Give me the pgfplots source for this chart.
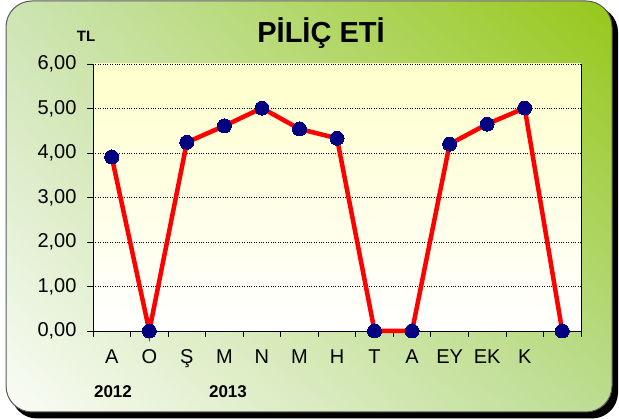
\documentclass[border=0pt]{standalone}
\usepackage{fontspec}
\setmainfont{Liberation Sans}
\usepackage{pgfplots}
\pgfplotsset{compat=1.18}
\usetikzlibrary{shadings}
\definecolor{cardTR}{RGB}{150,200,25}
\definecolor{cardTL}{RGB}{205,228,180}
\definecolor{cardBL}{RGB}{250,252,246}
\definecolor{cardBR}{RGB}{188,220,145}
\definecolor{paleyellow}{RGB}{255,255,204}
\definecolor{navyblue}{RGB}{0,0,128}
\begin{document}
\begin{tikzpicture}[x=1pt,y=1pt]
\useasboundingbox (0,0) rectangle (619,419);
\fill[black, rounded corners=26pt] (11,0.5) rectangle (618,413);
\shade[rounded corners=26pt, lower left=cardBL, upper right=cardTR, upper left=cardTL, lower right=cardBR] (6,7) rectangle (612,418);
\draw[black!65, line width=1pt, rounded corners=26pt] (6,7) rectangle (612,418);
\node at (321,386) {\fontsize{29}{34}\selectfont\bfseries PİLİÇ ETİ};
\node at (86,383) {\fontsize{15}{18}\selectfont\bfseries TL};
\node at (113,27) {\fontsize{17}{20}\selectfont\bfseries 2012};
\node at (228,27) {\fontsize{17}{20}\selectfont\bfseries 2013};
\begin{axis}[
  at={(93pt,88pt)}, anchor=south west,
  scale only axis, width=488pt, height=267pt,
  xmin=-0.5, xmax=12.5, ymin=0, ymax=6,
  clip=false,
  axis lines*=left,
  axis line style={black, line width=0.9pt},
  axis background/.style={shade, top color=paleyellow, bottom color=white},
  xtick={-0.5,0.5,...,12.5},
  x tick label as interval,
  xticklabels={A,O,Ş,M,N,M,H,T,A,EY,EK,K,{}},
  ytick={0,1,...,6},
  yticklabels={{0,00},{1,00},{2,00},{3,00},{4,00},{5,00},{6,00}},
  tick align=outside,
  major tick length=6pt,
  tick style={black, line width=0.8pt},
  ymajorgrids,
  grid style={black, dotted, line width=0.7pt},
  ticklabel style={font=\fontsize{20}{24}\selectfont},
  yticklabel style={xshift=-7pt},
  xticklabel style={yshift=-9pt},
  /pgf/number format/assume math mode=true,
]
\draw[black, line width=0.9pt] (axis cs:12.5,0) -- (axis cs:12.5,6);
\addplot[red, line width=4.5pt, mark=*, mark size=7pt, mark options={fill=navyblue, draw=navyblue, line width=0pt}]
coordinates {(0,3.91) (1,0) (2,4.24) (3,4.61) (4,5.01) (5,4.54) (6,4.33) (7,0) (8,0) (9,4.20) (10,4.65) (11,5.01) (12,0)};
\end{axis}
\end{tikzpicture}
\end{document}
